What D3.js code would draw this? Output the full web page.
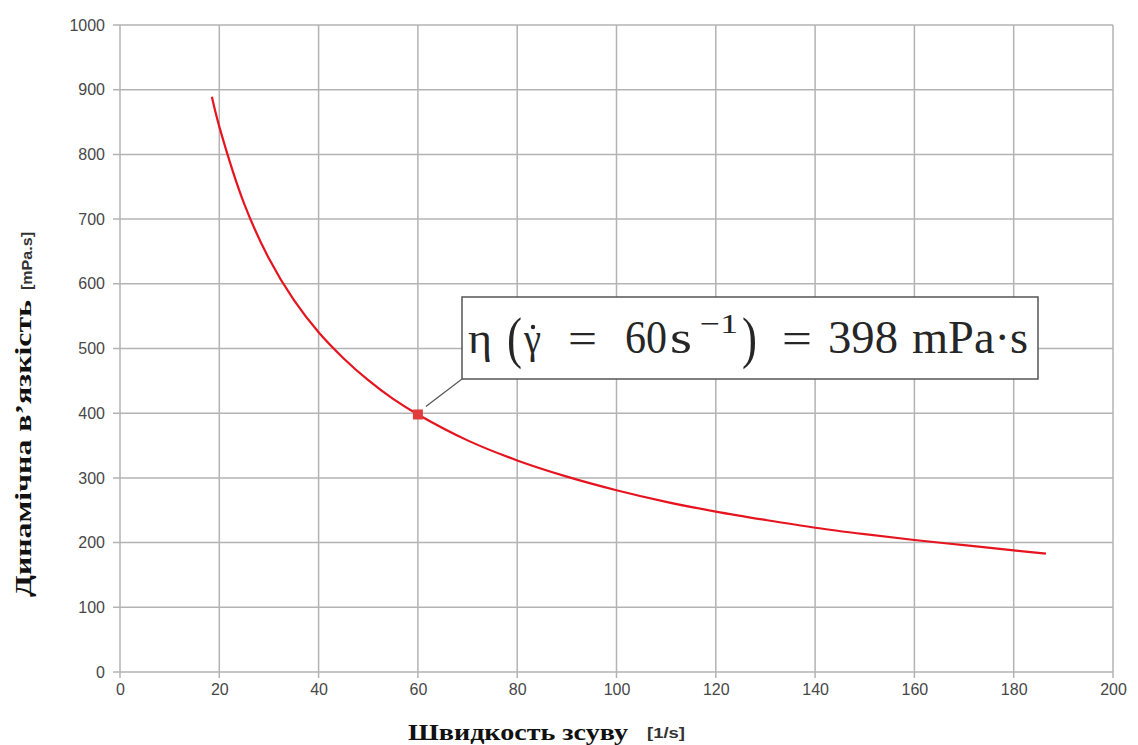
<!DOCTYPE html>
<html>
<head>
<meta charset="utf-8">
<script src="https://cdn.jsdelivr.net/npm/d3@7"></script>
<style>
  body { margin: 0; background: #fff; }
  .tick text { font-family: "Liberation Sans", Arial, sans-serif; font-size: 16px; fill: #474747; }
</style>
</head>
<body>
<script>
// dimensions du dessin
const largeur = 1138;
const hauteur = 745;
const marge = { haut: 25, droite: 25, bas: 73, gauche: 120 };

// données (shear rate [1/s], viscosité [mPa.s])
const vitesse = [18.5, 20, 25, 30, 35, 40, 45, 50, 55, 60, 70, 80, 90, 100, 110, 120, 130, 140, 150, 160, 170, 180, 186.5];
const viscosite = [889, 843, 724, 639, 575, 525, 485, 451, 422, 398, 358, 327, 302, 281, 263, 248, 235, 223, 213, 204, 196, 188, 183];
const pointMarque = [60, 398];
const ticksX = [0, 20, 40, 60, 80, 100, 120, 140, 160, 180, 200];
const ticksY = [0, 100, 200, 300, 400, 500, 600, 700, 800, 900, 1000];

const svg = d3.select("body").append("svg")
    .attr("width", largeur)
    .attr("height", hauteur);

const x = d3.scaleLinear().domain([0, 200]).range([marge.gauche, largeur - marge.droite]);
const y = d3.scaleLinear().domain([0, 1000]).range([hauteur - marge.bas, marge.haut]);

// grille
const grille = svg.append("g");
grille.selectAll("line.v").data(ticksX).join("line")
    .attr("x1", d => x(d)).attr("x2", d => x(d))
    .attr("y1", y(1000)).attr("y2", y(0) + 6)
    .attr("stroke", "#b3b3b3").attr("stroke-width", 1.5);
grille.selectAll("line.h").data(ticksY).join("line")
    .attr("x1", x(0) - 7).attr("x2", x(200))
    .attr("y1", d => y(d)).attr("y2", d => y(d))
    .attr("stroke", "#b3b3b3").attr("stroke-width", 1.5);

// axes (texte seulement)
const axeX = svg.append("g")
    .attr("transform", `translate(0,${y(0)})`)
    .call(d3.axisBottom(x).tickValues(ticksX).tickFormat(d3.format("d")).tickSize(0).tickPadding(12));
axeX.select(".domain").remove();

const axeY = svg.append("g")
    .attr("transform", `translate(${x(0)},0)`)
    .call(d3.axisLeft(y).tickValues(ticksY).tickFormat(d3.format("d")).tickSize(0).tickPadding(15));
axeY.select(".domain").remove();

// courbe
const ligne = d3.line()
    .x(d => x(d[0]))
    .y(d => y(d[1]))
    .curve(d3.curveCatmullRom);

svg.append("path")
    .datum(d3.zip(vitesse, viscosite))
    .attr("d", ligne)
    .attr("fill", "none")
    .attr("stroke", "#e5141f")
    .attr("stroke-width", 2.2);

// point marqué
svg.append("rect")
    .attr("x", x(pointMarque[0]) - 5)
    .attr("y", y(pointMarque[1]) - 5)
    .attr("width", 10).attr("height", 10)
    .attr("fill", "#e03c3c");

// annotation
const boite = { x: 462, y: 297, w: 576, h: 82 };
svg.append("line")
    .attr("x1", boite.x).attr("y1", boite.y + boite.h)
    .attr("x2", x(pointMarque[0]) + 8).attr("y2", y(pointMarque[1]) - 8)
    .attr("stroke", "#555").attr("stroke-width", 1.2);
svg.append("rect")
    .attr("x", boite.x).attr("y", boite.y)
    .attr("width", boite.w).attr("height", boite.h)
    .attr("fill", "#fff").attr("stroke", "#555").attr("stroke-width", 1.5);

const police = "'Liberation Serif', 'DejaVu Serif', serif";
const base = 353;
// morceaux de la formule : texte, position x, largeur, taille, décalage vertical
const morceaux = [
    ["η", 468, 24, 44, 0],
    ["(", 507, 15, 56, 4],
    ["γ", 524, 17, 44, 0],
    ["=", 568, 29, 44, 0],
    ["60", 625, 42, 46, 0],
    ["s", 670, 22, 46, 0],
    ["−1", 700, 38, 28, -20],
    [")", 742, 15, 56, 4],
    ["=", 782, 30, 44, 0],
    ["398", 828, 70, 46, 0],
    ["mPa·s", 912, 116, 46, 0]
];
svg.selectAll("text.formule").data(morceaux).join("text")
    .attr("class", "formule")
    .attr("x", d => d[1])
    .attr("y", d => base + d[4])
    .attr("font-family", police)
    .attr("font-size", d => d[3])
    .attr("fill", "#262626")
    .attr("textLength", d => d[2])
    .attr("lengthAdjust", "spacingAndGlyphs")
    .text(d => d[0]);
// point de la dérivée au-dessus de gamma
svg.append("circle")
    .attr("cx", 533).attr("cy", 327).attr("r", 2.2)
    .attr("fill", "#262626");

// titres des axes
svg.append("text")
    .attr("x", 408).attr("y", 740)
    .attr("font-family", police)
    .attr("font-weight", "bold").attr("font-size", 24)
    .attr("textLength", 220).attr("lengthAdjust", "spacingAndGlyphs")
    .attr("fill", "#111")
    .text("Швидкость зсуву");
svg.append("text")
    .attr("x", 647).attr("y", 738)
    .attr("font-family", "'Liberation Sans', sans-serif")
    .attr("font-weight", "bold").attr("font-size", 15)
    .attr("textLength", 38).attr("lengthAdjust", "spacingAndGlyphs")
    .attr("fill", "#333")
    .text("[1/s]");

svg.append("text")
    .attr("transform", "translate(31,597) rotate(-90)")
    .attr("font-family", police)
    .attr("font-weight", "bold").attr("font-size", 23)
    .attr("textLength", 297).attr("lengthAdjust", "spacingAndGlyphs")
    .attr("fill", "#111")
    .text("Динамічна в’язкість");
svg.append("text")
    .attr("transform", "translate(32,290) rotate(-90)")
    .attr("font-family", "'Liberation Sans', sans-serif")
    .attr("font-weight", "bold").attr("font-size", 14)
    .attr("textLength", 58).attr("lengthAdjust", "spacingAndGlyphs")
    .attr("fill", "#333")
    .text("[mPa.s]");
</script>
</body>
</html>
